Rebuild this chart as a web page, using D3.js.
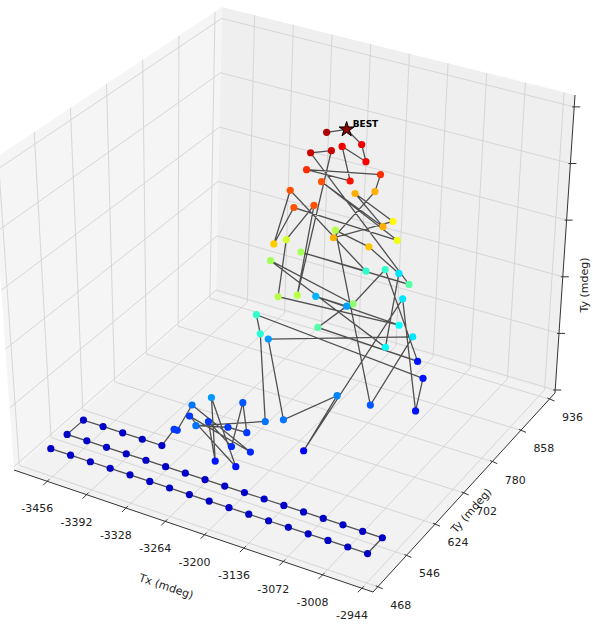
<!DOCTYPE html>
<html>
<head>
<meta charset="utf-8">
<script src="https://cdn.jsdelivr.net/npm/d3@7"></script>
<style>
  body { margin: 0; background: #fff; }
  svg { font-family: "DejaVu Sans", sans-serif; }
</style>
</head>
<body>
<svg id="chart" width="593" height="624"></svg>
<script>
// samples in visiting order: Tx, Ty (mdeg) and score (z)
var txVals = [
  -3456,-3424,-3392,-3360,-3328,-3296,-3264,-3232,-3200,-3168,-3136,-3104,-3072,-3040,-3008,-2976,-2944,
  -2944,-2976,-3008,-3040,-3072,-3104,-3136,-3168,-3200,-3232,-3264,-3296,-3328,-3360,-3392,-3424,-3456,
  -3456,-3424,-3392,-3360,-3328,
  -3294,-3289,-3284,-3179,-3293,-3185,-3257,-3217,-3263,-3209,-3236,-3202,-3232,-3252,
  -3174,-3233,-3261,-3064,-3032,-3127,-3132,-3113,-3154,-3267,-3063,-3075,-3236,-3123,-3167,-3074,
  -3279,-3124,-3164,-3093,-3155,-3211,-3257,-3086,-3211,-3273,-3208,-3190,-3218,-3240,-3100,-3254,
  -3186,-3259,-3246,-3229,-3124,-3234,-3127,-3210,-3149,-3172,-3188,-3158,-3256,-3175,-3226,-3177,
  -3205,-3203,-3241
];
var tyVals = [
  468,468,468,468,468,468,468,468,468,468,468,468,468,468,468,468,468,
  508,508,508,508,508,508,508,508,508,508,508,508,508,508,508,508,508,
  548,548,548,548,548,
  528,528,558,541,565,513,565,511,566,540,611,568,567,518,
  571,650,683,808,738,847,604,659,586,722,774,686,838,748,898,720,
  744,713,857,839,673,834,825,774,660,773,741,675,796,779,819,781,
  842,760,702,724,822,798,789,845,849,735,861,827,794,778,834,819,
  850,809,818
];
var zVals = [
  0.42,0.42,0.42,0.42,0.42,0.42,0.42,0.42,0.42,0.42,0.42,0.42,0.42,0.42,0.42,0.42,0.42,
  0.42,0.42,0.42,0.42,0.42,0.42,0.42,0.42,0.42,0.42,0.42,0.42,0.42,0.42,0.42,0.42,0.42,
  0.42,0.42,0.42,0.42,0.42,
  0.93,0.93,1.19,0.85,0.93,0.76,1.36,0.76,0.93,0.85,1.06,0.93,0.93,1.19,
  1.19,2.00,2.04,0.76,0.76,1.70,0.63,1.27,1.19,1.36,1.70,1.06,2.64,3.23,1.70,1.83,
  2.55,2.46,2.04,0.76,2.21,1.40,1.49,1.83,2.64,2.76,3.74,2.64,4.34,4.34,2.21,2.55,
  2.04,3.74,3.19,3.74,2.89,3.74,3.32,3.32,2.98,3.32,3.32,3.91,3.91,4.04,4.17,4.13,
  4.17,4.68,4.47
];
var txTicks = [-3456,-3392,-3328,-3264,-3200,-3136,-3072,-3008,-2944];
var tyTicks = [468,546,624,702,780,858,936];
var zTicks = [0,1,2,3,4,5];

var svg = d3.select('#chart');

// normalised axis coordinates
var xs = d3.scaleLinear().domain([-3510, -2926]).range([0, 1]);
var ys = d3.scaleLinear().domain([455, 951]).range([0, 1]);
var zs = d3.scaleLinear().domain([-0.0526, 5.21]).range([0, 1]);

// screen corners of the axes box (floor A B C D, top A' B' C' D')
var fl = [[14,470],[373,592],[555,393],[216,293]];
var tp = [[-8,160],[383,262],[575,95],[222,7]];
function bil(q, u, v) {
  var a = (1-u)*(1-v), b = u*(1-v), c = u*v, d = (1-u)*v;
  return [a*q[0][0]+b*q[1][0]+c*q[2][0]+d*q[3][0], a*q[0][1]+b*q[1][1]+c*q[2][1]+d*q[3][1]];
}
function proj(x, y, z) {
  var u = xs(x), v = ys(y), w = zs(z);
  var f = bil(fl, u, v), t = bil(tp, u, v);
  return [f[0]*(1-w)+t[0]*w, f[1]*(1-w)+t[1]*w];
}
var X0 = xs.domain()[0], X1 = xs.domain()[1];
var Y0 = ys.domain()[0], Y1 = ys.domain()[1];
var Z0 = zs.domain()[0], Z1 = zs.domain()[1];

// panes
function poly(pts, fill) {
  svg.append('polygon').attr('points', pts.map(function (p) { return p.join(','); }).join(' '))
    .attr('fill', fill).attr('stroke', 'none');
}
poly([proj(X0,Y0,Z0), proj(X0,Y1,Z0), proj(X0,Y1,Z1), proj(X0,Y0,Z1)], '#f5f5f5');
poly([proj(X0,Y1,Z0), proj(X1,Y1,Z0), proj(X1,Y1,Z1), proj(X0,Y1,Z1)], '#efefef');
poly([proj(X0,Y0,Z0), proj(X1,Y0,Z0), proj(X1,Y1,Z0), proj(X0,Y1,Z0)], '#f2f2f2');

function seg(p, q, col, w) {
  svg.append('line').attr('x1', p[0]).attr('y1', p[1]).attr('x2', q[0]).attr('y2', q[1])
    .attr('stroke', col).attr('stroke-width', w);
}
var gc = '#d2d2d2';
txTicks.forEach(function (t) {
  seg(proj(t,Y0,Z0), proj(t,Y1,Z0), gc, 0.9);
  seg(proj(t,Y1,Z0), proj(t,Y1,Z1), gc, 0.9);
});
tyTicks.forEach(function (t) {
  seg(proj(X0,t,Z0), proj(X1,t,Z0), gc, 0.9);
  seg(proj(X0,t,Z0), proj(X0,t,Z1), gc, 0.9);
});
zTicks.forEach(function (t) {
  seg(proj(X0,Y0,t), proj(X0,Y1,t), gc, 0.9);
  seg(proj(X0,Y1,t), proj(X1,Y1,t), gc, 0.9);
});

// axis lines, ticks and labels
var ac = '#333';
seg(proj(X0,Y0,Z0), proj(X1,Y0,Z0), ac, 1);
seg(proj(X1,Y0,Z0), proj(X1,Y1,Z0), ac, 1);
seg(proj(X1,Y1,Z0), proj(X1,Y1,Z1), ac, 1);

txTicks.forEach(function (t) {
  var p = proj(t, Y0, Z0);
  seg([p[0]+2, p[1]-2], [p[0]-4, p[1]+4], ac, 1);
  svg.append('text').attr('x', p[0]-10).attr('y', p[1]+31).attr('text-anchor', 'middle')
    .attr('font-size', 11).attr('fill', '#222').text(t);
});
tyTicks.forEach(function (t) {
  var p = proj(X1, t, Z0);
  seg([p[0]-2, p[1]-1], [p[0]+5, p[1]+2], ac, 1);
  svg.append('text').attr('x', p[0]+23).attr('y', p[1]+22).attr('text-anchor', 'middle')
    .attr('font-size', 11).attr('fill', '#222').text(t);
});
zTicks.forEach(function (t) {
  var p = proj(X1, Y1, t);
  seg([p[0]-2, p[1]], [p[0]+6, p[1]], ac, 1);
});
svg.append('text').attr('transform', 'translate(165,590) rotate(19)').attr('text-anchor', 'middle')
  .attr('font-size', 11).attr('fill', '#222').text('Tx (mdeg)');
svg.append('text').attr('transform', 'translate(474,513) rotate(-49)').attr('text-anchor', 'middle')
  .attr('font-size', 11).attr('fill', '#222').text('Ty (mdeg)');
svg.append('text').attr('transform', 'translate(588,285) rotate(-90)').attr('text-anchor', 'middle')
  .attr('font-size', 11).attr('fill', '#222').text('Ty (mdeg)');

// samples
var pts = txVals.map(function (t, i) {
  var p = proj(t, tyVals[i], zVals[i]);
  return { x: p[0], y: p[1], z: zVals[i] };
});
var cn = d3.scaleLinear().domain([0.10, d3.max(zVals)]).range([0, 1]);
function jet(v) {
  var c = function (a) { return Math.round(255 * Math.max(0, Math.min(1, a))); };
  return 'rgb(' + c(1.5 - Math.abs(4*v - 3)) + ',' + c(1.5 - Math.abs(4*v - 2)) + ',' + c(1.5 - Math.abs(4*v - 1)) + ')';
}

svg.append('path').datum(pts)
  .attr('d', d3.line().x(function (d) { return d.x; }).y(function (d) { return d.y; }))
  .attr('fill', 'none').attr('stroke', '#222').attr('stroke-opacity', 0.78).attr('stroke-width', 1.3);

var best = d3.maxIndex(zVals);
svg.selectAll('circle.pt').data(pts.filter(function (d, i) { return i !== best; }))
  .enter().append('circle').attr('class', 'pt')
  .attr('cx', function (d) { return d.x; }).attr('cy', function (d) { return d.y; })
  .attr('r', 3.6).attr('fill', function (d) { return jet(cn(d.z)); });

var b = pts[best];
svg.append('path').attr('d', d3.symbol(d3.symbolStar, 70)())
  .attr('transform', 'translate(' + b.x + ',' + b.y + ')')
  .attr('fill', '#8b0000').attr('stroke', '#000').attr('stroke-width', 1);
svg.append('text').attr('x', b.x + 6).attr('y', b.y - 2).attr('font-size', 9)
  .attr('font-weight', 'bold').attr('fill', '#000').text('BEST');
</script>
</body>
</html>
